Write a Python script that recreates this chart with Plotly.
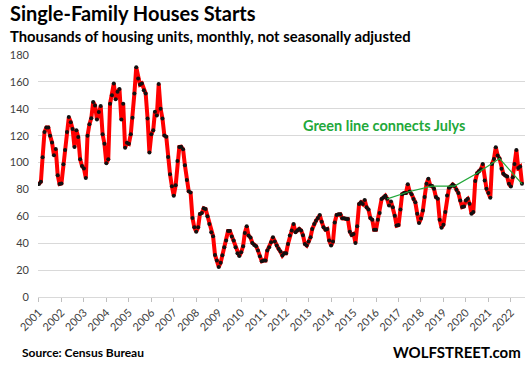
import pandas as pd
import plotly.graph_objects as go

# Monthly single-family housing starts, thousands, NSA
v2001 = [84.0, 85.7, 104.0, 122.7, 126.0, 126.0, 120.0, 115.0, 105.4, 110.0, 90.6, 84.0]
v2002 = [84.4, 98.8, 109.4, 122.7, 133.8, 130.0, 125.0, 111.6, 124.0, 119.0, 102.5, 97.5]
v2003 = [95.6, 88.6, 120.0, 128.4, 133.0, 145.0, 142.5, 132.0, 137.6, 142.0, 121.0, 114.0]
v2004 = [99.5, 102.5, 143.7, 150.0, 158.8, 147.0, 152.6, 154.8, 132.0, 143.7, 111.0, 114.8]
v2005 = [114.0, 121.0, 133.3, 151.4, 170.9, 162.5, 158.0, 158.8, 153.8, 151.4, 132.8, 107.4]
v2006 = [121.0, 124.0, 137.8, 135.0, 158.5, 140.0, 132.8, 120.2, 119.2, 104.2, 91.3, 82.4]
v2007 = [75.3, 83.2, 101.2, 111.6, 111.8, 109.9, 98.0, 87.1, 78.6, 77.8, 58.8, 51.8]
v2008 = [48.6, 51.8, 61.7, 62.5, 66.0, 65.4, 60.0, 54.3, 48.1, 45.2, 31.3, 27.1]
v2009 = [22.4, 25.5, 31.0, 37.0, 42.0, 49.0, 49.0, 45.0, 42.0, 37.0, 32.5, 30.5]
v2010 = [33.3, 37.8, 47.6, 52.6, 45.7, 44.2, 40.2, 38.7, 37.8, 34.5, 30.3, 26.6]
v2011 = [27.1, 27.1, 34.6, 37.0, 40.7, 44.4, 41.2, 38.3, 35.8, 33.8, 30.9, 32.6]
v2012 = [32.6, 39.5, 45.7, 49.4, 54.3, 48.1, 49.4, 50.6, 49.4, 46.0, 39.5, 38.3]
v2013 = [41.2, 44.5, 50.6, 54.3, 56.8, 58.8, 61.0, 56.0, 51.8, 50.1, 50.6, 42.0]
v2014 = [38.3, 41.2, 55.5, 61.0, 61.5, 61.5, 58.5, 58.5, 58.0, 58.0, 48.6, 46.2]
v2015 = [46.9, 40.2, 52.6, 69.1, 70.4, 69.1, 72.1, 66.7, 65.0, 58.8, 57.5, 50.1]
v2016 = [50.1, 57.5, 62.5, 72.8, 74.0, 75.3, 73.0, 68.0, 71.0, 66.7, 60.5, 53.1]
v2017 = [53.5, 65.0, 76.5, 77.3, 77.3, 83.9, 78.5, 76.5, 72.8, 70.4, 62.0, 55.0]
v2018 = [58.3, 64.4, 74.3, 84.2, 87.9, 83.0, 82.5, 80.5, 74.3, 73.0, 57.5, 51.6]
v2019 = [53.8, 63.2, 75.5, 81.2, 82.2, 83.7, 82.5, 79.7, 77.3, 71.8, 66.9, 67.4]
v2020 = [71.8, 73.0, 69.4, 62.0, 63.2, 86.2, 92.1, 93.6, 95.0, 99.0, 86.7, 80.5]
v2021 = [77.3, 73.8, 99.0, 102.7, 111.4, 105.2, 103.0, 95.3, 91.6, 90.4, 89.6, 84.2]
v2022 = [82.2, 89.1, 99.0, 109.4, 96.0, 97.0, 84.2]

years = list(range(2001, 2023))
year_labels = [str(y) for y in years]
july_start_year = 2016

values = (v2001 + v2002 + v2003 + v2004 + v2005 + v2006 + v2007 + v2008 + v2009 + v2010 + v2011
          + v2012 + v2013 + v2014 + v2015 + v2016 + v2017 + v2018 + v2019 + v2020 + v2021 + v2022)
dates = pd.date_range("2001-01-01", periods=len(values), freq="MS")
series = pd.Series(values, index=dates)
julys = series[(series.index.month == 7) & (series.index.year >= july_start_year)]

FONT = "Lato"
W, H = 532, 378
ML, MR, MT, MB = 38, 7, 55, 81
PW, PH = W - ML - MR, H - MT - MB


def px(x):
    return (x - ML) / PW


def py(y):
    return (H - MB - y) / PH


fig = go.Figure()
fig.add_trace(go.Scatter(
    x=series.index, y=series.values, mode="lines+markers",
    line=dict(color="#ff0000", width=4),
    marker=dict(color="#111111", size=4),
    hoverinfo="skip", showlegend=False))
fig.add_trace(go.Scatter(
    x=julys.index, y=julys.values, mode="lines",
    line=dict(color="#22a83a", width=1.2),
    hoverinfo="skip", showlegend=False))

fig.update_layout(
    width=W, height=H,
    margin=dict(l=ML, r=MR, t=MT, b=MB),
    paper_bgcolor="white", plot_bgcolor="white",
    font=dict(family=FONT, color="#404040", size=11),
    xaxis=dict(
        type="date",
        range=["2000-12-16", "2022-08-19"],
        tickvals=[pd.Timestamp(f"{y}-01-01") for y in years],
        ticktext=year_labels,
        tickangle=-45,
        ticks="outside", ticklen=4, tickcolor="#bfbfbf",
        showgrid=False, showline=True, linecolor="#d9d9d9", linewidth=1,
        tickfont=dict(family=FONT, size=11, color="#404040"),
        zeroline=False,
    ),
    yaxis=dict(
        range=[0, 180], dtick=20, tick0=0,
        showgrid=True, gridcolor="#d9d9d9", gridwidth=1,
        zeroline=False, showline=False,
        tickfont=dict(family=FONT, size=11, color="#404040"),
        ticklabelstandoff=8,
    ),
    annotations=[
        dict(text="<b>Single-Family Houses Starts</b>", xref="paper", yref="paper",
             x=px(8), y=py(13), xanchor="left", yanchor="middle", showarrow=False,
             font=dict(family=FONT, size=20, color="#000000")),
        dict(text="<b>Thousands of housing units, monthly, not seasonally adjusted</b>",
             xref="paper", yref="paper", x=px(8), y=py(36), xanchor="left", yanchor="middle",
             showarrow=False, font=dict(family=FONT, size=14.8, color="#000000")),
        dict(text="<b>Green line connects Julys</b>", xref="paper", yref="paper",
             x=px(384), y=py(125), xanchor="center", yanchor="middle", showarrow=False,
             font=dict(family=FONT, size=14.5, color="#22a83a")),
        dict(text="<b>Source: Census Bureau</b>", xref="paper", yref="paper",
             x=px(20), y=py(352), xanchor="left", yanchor="middle", showarrow=False,
             font=dict(family=FONT, size=12, color="#000000")),
        dict(text="<b>WOLFSTREET.com</b>", xref="paper", yref="paper",
             x=px(523), y=py(352), xanchor="right", yanchor="middle", showarrow=False,
             font=dict(family=FONT, size=15, color="#000000")),
    ],
)

fig.write_html("out.html", config={"displayModeBar": False},
               post_script="document.body.style.margin='0';document.body.style.overflow='hidden';")
